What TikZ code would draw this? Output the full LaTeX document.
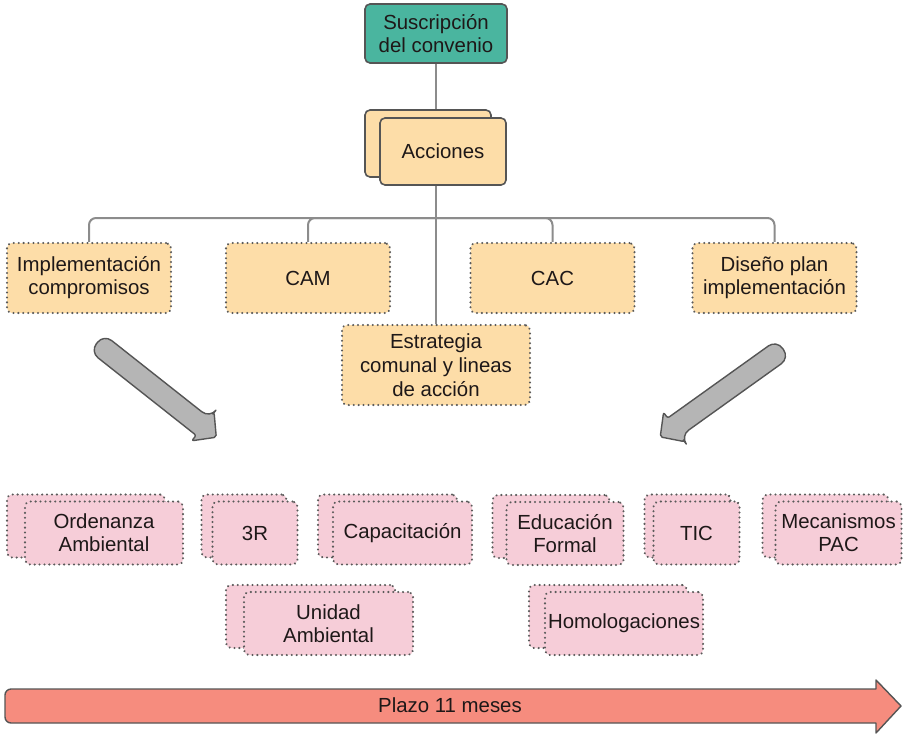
\documentclass[tikz,border=0pt]{standalone}
\usepackage{fontspec}
\setmainfont{Liberation Sans}
\usetikzlibrary{calc}

\definecolor{tealbox}{RGB}{74,181,159}
\definecolor{orangebox}{RGB}{253,221,168}
\definecolor{pinkbox}{RGB}{246,205,216}
\definecolor{salmon}{RGB}{246,140,126}
\definecolor{arrowgray}{RGB}{181,181,181}
\definecolor{edgegray}{RGB}{85,85,85}
\definecolor{dotgray}{RGB}{90,90,90}
\definecolor{linkgray}{RGB}{140,140,140}
\definecolor{inkdark}{RGB}{30,24,24}

\tikzset{
  basebox/.style={rounded corners=5pt, inner sep=0pt, align=center,
    text=inkdark, font=\fontsize{20.4}{23}\selectfont},
  solidbox/.style={basebox, draw=edgegray, line width=1.6pt},
  dotbox/.style={basebox, draw=dotgray, line width=2.3pt, line cap=round,
    dash pattern=on 0.01pt off 4.9pt},
  tealnode/.style={solidbox, fill=tealbox, minimum width=142, minimum height=59},
  accnode/.style={solidbox, fill=orangebox, minimum width=126, minimum height=67},
  orangenode/.style={dotbox, fill=orangebox, minimum width=164, minimum height=70},
  pinknode/.style={dotbox, fill=pinkbox, minimum height=63},
  link/.style={draw=linkgray, line width=2pt},
  bigarrow/.style={fill=arrowgray, draw=edgegray, line width=1.4pt, line join=round},
}

% stacked pink card: name, front centre x, front centre y, back shift, width, text
\newcommand{\stackbox}[6]{%
  \node[pinknode, minimum width=#5] (#1-b) at ({#2-#4},{#3-7}) {};
  \node[pinknode, minimum width=#5] (#1) at (#2,#3) {#6};
}

% thick grey arrow: tail point, direction angle, length
\newcommand{\grayarrow}[3]{%
  \begin{scope}[shift={(#1)}, rotate=#2]
    \path[bigarrow] ({#3-17},11) [rounded corners=10pt] -- (0,11) -- (0,-11)
      -- ({#3-17},-11) [rounded corners=2pt] -- ({#3-17},-18) -- (#3,0)
      -- ({#3-17},18) -- cycle;
  \end{scope}
}

\begin{document}
\begin{tikzpicture}[x=1pt, y=-1pt]
  \useasboundingbox (0,0) rectangle (904,734);

  % top of the hierarchy
  \node[tealnode] (sus) at (436,33.5) {Suscripción\\del convenio};
  \node[accnode] (acc-b) at (428,143.5) {};
  \node[accnode] (acc) at (443,151.5) {Acciones};

  % first level of actions
  \node[orangenode] (impl) at (89,278) {Implementación\\compromisos};
  \node[orangenode] (cam) at (308,278) {CAM};
  \node[orangenode] (cac) at (552.5,278) {CAC};
  \node[orangenode] (dis) at (774.5,278) {Diseño plan\\implementación};
  \node[dotbox, fill=orangebox, minimum width=188, minimum height=80,
        font=\fontsize{20.4}{24}\selectfont] (estr) at (436,365)
        {Estrategia\\comunal y lineas\\de acción};

  % connectors
  \coordinate (bus) at (436,218);
  \coordinate (top) at (436,63);
  \draw[link] (sus.south -| top) -- (acc-b.north -| top);
  \draw[link] (acc.south -| top) -- (estr.north -| top);
  \draw[link, rounded corners=7pt] (impl.north) |- (bus) -| (dis.north);
  \draw[link, rounded corners=7pt] (cam.north) |- (bus) -| (cac.north);

  % grey arrows towards the outcomes
  \grayarrow{97,343}{-38.3}{152}
  \grayarrow{783,349}{215.6}{151}

  % outcomes
  \stackbox{ord}{104}{533}{18}{158}{Ordenanza\\Ambiental}
  \stackbox{tres}{255}{533}{11}{85}{3R}
  \stackbox{cap}{402.5}{533}{15}{139}{Capacitación}
  \stackbox{uni}{328.5}{623.5}{18}{169}{Unidad\\Ambiental}
  \stackbox{edu}{565}{533.5}{14}{117}{Educación\\Formal}
  \stackbox{tic}{696.5}{533}{9}{86}{TIC}
  \stackbox{mec}{838.5}{533}{13}{126}{Mecanismos\\PAC}
  \stackbox{hom}{624}{623.5}{16}{158}{Homologaciones}

  % time line
  \path[fill=salmon, draw=edgegray, line width=1.4pt, line join=round]
    (876,689) [rounded corners=6pt] -- (5,689) -- (5,723)
    [sharp corners] -- (876,723) -- (876,733) -- (901,706) -- (876,680) -- cycle;
  \node[text=inkdark, font=\fontsize{20.4}{23}\selectfont] (plazo) at (450,705) {Plazo 11 meses};
\end{tikzpicture}
\end{document}
